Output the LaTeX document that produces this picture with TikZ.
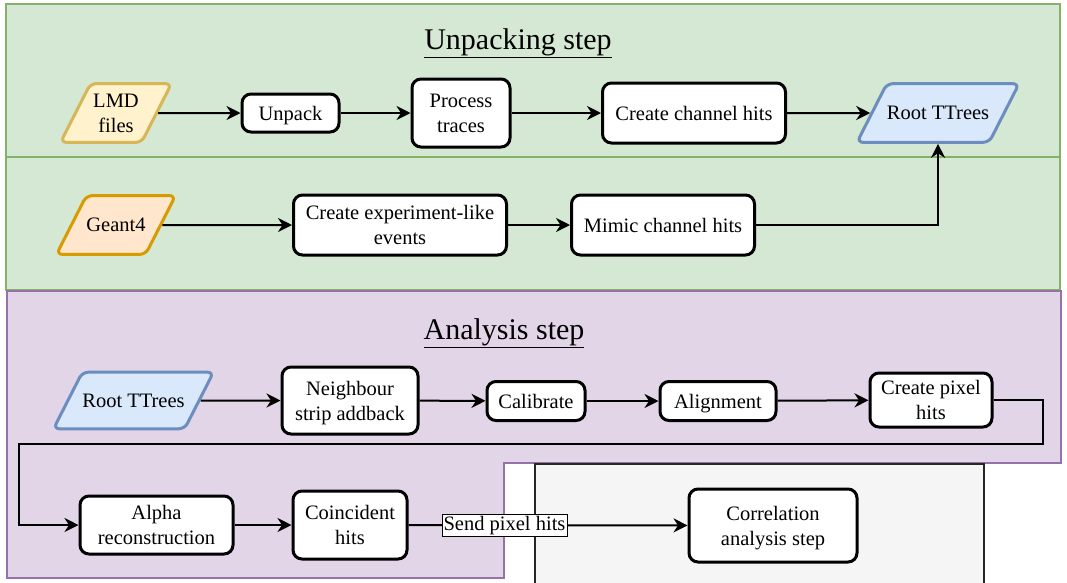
\documentclass[tikz,border=0pt]{standalone}
\usepackage{fontspec}
\setmainfont{Liberation Serif}
\usepackage{tikz}
\usetikzlibrary{arrows.meta,shapes.geometric,positioning}
\definecolor{grfill}{HTML}{D5E8D4}
\definecolor{grline}{HTML}{82B366}
\definecolor{pufill}{HTML}{E1D5E7}
\definecolor{puline}{HTML}{9673A6}
\definecolor{gyfill}{HTML}{F5F5F5}
\definecolor{ylfill}{HTML}{FFF2CC}
\definecolor{ylline}{HTML}{D6B656}
\definecolor{orfill}{HTML}{FFE6CC}
\definecolor{orline}{HTML}{D79B00}
\definecolor{blfill}{HTML}{DAE8FC}
\definecolor{blline}{HTML}{6C8EBF}
\tikzset{
    %Define standard arrow tip
    >={Stealth[length=14pt,width=14pt,inset=4.5pt]},
    %Define style for boxes
    proc/.style={
           rectangle,
           rounded corners=9pt,
           draw=black, line width=3pt,
           fill=white,
           inner sep=0pt,
           text depth=-5pt,
           align=center},
    iodata/.style={
           trapezium,
           trapezium left angle=63,
           trapezium right angle=117,
           trapezium stretches body=true,
           rounded corners=6pt,
           line width=3pt,
           inner xsep=0pt,
           inner ysep=22.6pt,
           text depth=-5pt,
           align=center},
    lmd/.style={iodata, draw=ylline, fill=ylfill, inner ysep=10.2pt},
    geant/.style={iodata, draw=orline, fill=orfill},
    ttree/.style={iodata, draw=blline, fill=blfill},
    stage/.style={font=\fontsize{30}{34}\selectfont},
    sendlbl/.style={
           draw=black, thin,
           fill=white,
           inner sep=1.5pt},
    % Define arrow style
    pil/.style={
           ->,
           line width=2pt}
}

\begin{document}
\begin{tikzpicture}[x=1pt,y=-1pt,font=\fontsize{20.5}{25}\selectfont]
\useasboundingbox (0,0) rectangle (1067,582);
% containers
\draw[line width=1.5pt, draw=grline, fill=grfill] (6,4) rectangle (1060,157);
\draw[line width=1.5pt, draw=grline, fill=grfill] (6,157) rectangle (1060,290);
\draw[line width=1.5pt, draw=puline, fill=pufill] (7,291) -- (1061,291) -- (1061,463) -- (504,463) -- (504,578) -- (7,578) -- cycle;
\draw[line width=1.5pt, draw=black!85, fill=gyfill] (535,464) rectangle (984,600);
\node[stage] (t1) at (518,43) {\underline{Unpacking step}};
\node[stage] (t2) at (504,333) {\underline{Analysis step}};
% unpacking
\node[lmd, minimum width=111pt, minimum height=58pt] (1) at (116,113) {LMD\\files};
\node[proc, minimum width=97pt, minimum height=38pt] (2) at (290.5,113) {Unpack};
\node[proc, minimum width=98pt, minimum height=68pt] (3) at (461,113) {Process\\traces};
\node[proc, minimum width=183pt, minimum height=60pt] (4) at (694,113) {Create channel hits};
\node[ttree, minimum width=161pt, minimum height=58pt] (5) at (938,113) {Root TTrees};
\node[geant, minimum width=111pt, minimum height=58pt] (6) at (116,225) {Geant4};
\node[proc, minimum width=213pt, minimum height=60pt] (7) at (400,225) {Create experiment-like\\events};
\node[proc, minimum width=183pt, minimum height=60pt] (8) at (663,225) {Mimic channel hits};
% analysis
\node[ttree, minimum width=160pt, minimum height=56pt, inner ysep=21.6pt] (9) at (133.5,400.5) {Root TTrees};
\node[proc, minimum width=136pt, minimum height=67pt] (10) at (350,400.5) {Neighbour\\strip addback};
\node[proc, minimum width=98pt, minimum height=39pt] (11) at (536,401) {Calibrate};
\node[proc, minimum width=116pt, minimum height=39pt] (12) at (718,401) {Alignment};
\node[proc, minimum width=122pt, minimum height=54pt] (13) at (931,400) {Create pixel\\hits};
\node[proc, minimum width=153pt, minimum height=58pt] (14) at (156.5,525) {Alpha\\reconstruction};
\node[proc, minimum width=114pt, minimum height=68pt] (15) at (350,525) {Coincident\\hits};
\node[proc, minimum width=168pt, minimum height=73pt] (16) at (773,525.5) {Correlation\\analysis step};
\coordinate (c1) at (1043,444);
\coordinate (c2) at (19,444);
\path[pil]
	(1) edge (2)
	(2) edge (3)
	(3) edge (4)
	(4) edge (5)
	(6) edge (7)
	(7) edge (8)
	(9) edge (10)
	(10) edge (11)
	(11) edge (12)
	(12) edge (13)
	(14) edge (15)
	(15) edge node[sendlbl, pos=0.344] {Send pixel hits} (16);
\draw[pil] (8) -| (5);
\draw[pil] (13) -| (c1) -- (c2) |- (14);
\end{tikzpicture}
\end{document}
